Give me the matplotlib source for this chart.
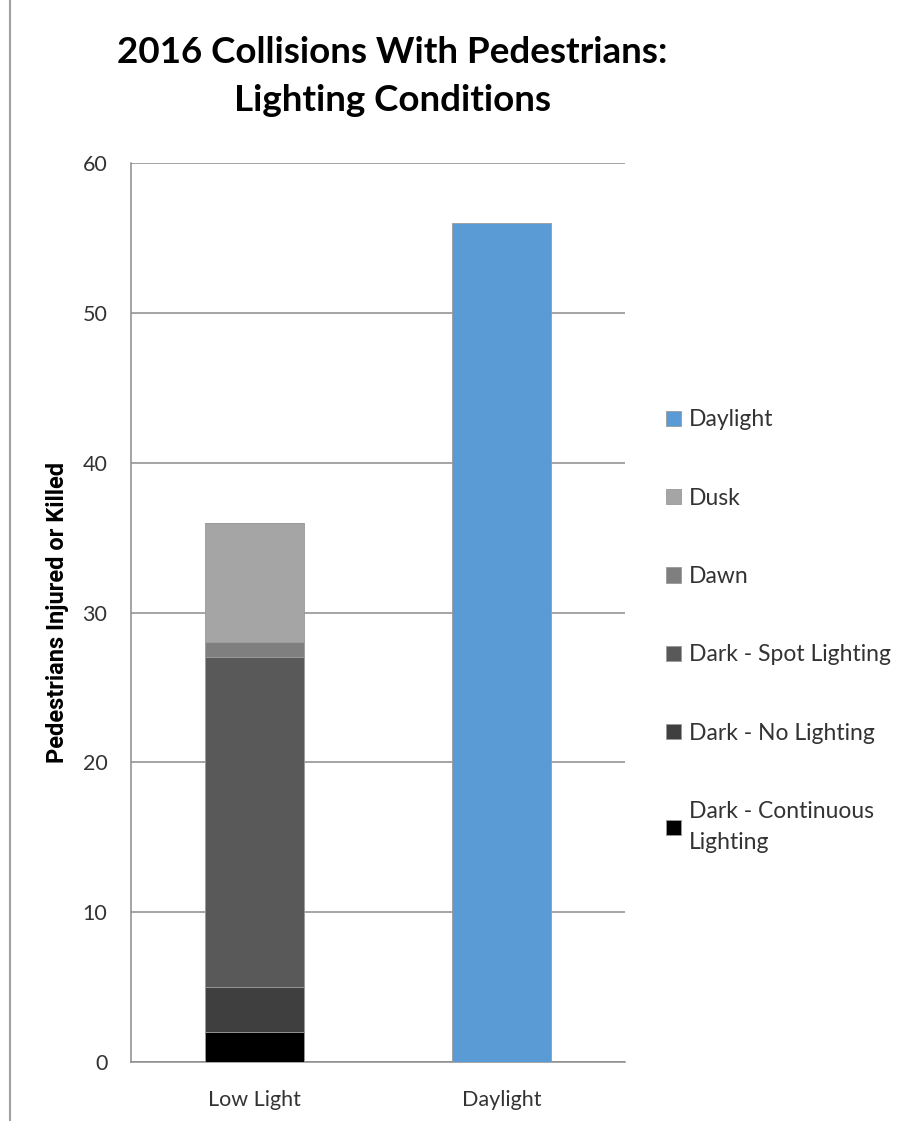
import matplotlib.pyplot as plt
from matplotlib.lines import Line2D

# ---- data ----
categories = ["Low Light", "Daylight"]
series_names = ["Dark - Continuous\nLighting", "Dark - No Lighting",
                "Dark - Spot Lighting", "Dawn", "Dusk", "Daylight"]
# stacked values per series: [Low Light, Daylight]
continuous = [2, 0]
no_lighting = [3, 0]
spot_lighting = [22, 0]
dawn = [1, 0]
dusk = [8, 0]
daylight = [0, 56]

series_colors = ["#000000", "#3f3f3f", "#595959", "#7f7f7f", "#a5a5a5", "#5b9bd5"]

plt.rcParams["font.family"] = ["Lato", "DejaVu Sans"]

fig = plt.figure(figsize=(9, 11.21), dpi=100)
fig.patch.set_facecolor("white")
ax = fig.add_axes([0.1456, 0.0526, 0.5489, 0.802])

x = list(range(len(categories)))
bottom = [0, 0]
handles = []
for name, vals, col in zip(series_names,
                           [continuous, no_lighting, spot_lighting, dawn, dusk, daylight],
                           series_colors):
    bars = ax.bar(x, vals, width=0.4, bottom=bottom, color=col,
                  edgecolor="#9a9a9a", linewidth=0.6, zorder=3, label=name)
    handles.append(bars)
    bottom = [b + v for b, v in zip(bottom, vals)]

ax.set_xlim(-0.5, 1.5)
ax.set_ylim(0, 60)
ax.set_yticks(range(0, 61, 10))
ax.set_xticks(x)
ax.set_xticklabels(categories)
ax.tick_params(axis="both", length=0, labelsize=15.5, colors="#333333")
ax.tick_params(axis="y", pad=17)
ax.tick_params(axis="x", pad=20)

ax.yaxis.grid(True, color="#8c8c8c", linewidth=1.1, zorder=0)
for side in ["top", "right"]:
    ax.spines[side].set_visible(False)
ax.spines["left"].set_color("#8c8c8c")
ax.spines["bottom"].set_color("#8c8c8c")
ax.spines["left"].set_linewidth(1.1)
ax.spines["bottom"].set_linewidth(1.1)

ax.set_ylabel("Pedestrians Injured or Killed", fontsize=17, fontweight="bold",
              family=["Liberation Sans Narrow", "Roboto", "DejaVu Sans"],
              labelpad=10)

fig.text(0.436, 0.932, "2016 Collisions With Pedestrians:\nLighting Conditions",
         ha="center", va="center", fontsize=26.5, fontweight="bold",
         linespacing=1.55)

# legend, top entry first
leg = ax.legend(handles[::-1], series_names[::-1], loc="upper left",
                bbox_to_anchor=(0.73, 0.643), bbox_transform=fig.transFigure,
                frameon=False, fontsize=16.5, labelspacing=2.5,
                handlelength=0.65, handleheight=0.65, handletextpad=0.35,
                borderaxespad=0)
for t in leg.get_texts():
    t.set_color("#333333")
    t.set_linespacing(1.6)

# thin border line at the left edge
fig.add_artist(Line2D([10 / 900, 10 / 900], [0, 1], transform=fig.transFigure,
                      color="#a0a0a0", linewidth=1.5))

fig.savefig("out.png", dpi=100)
